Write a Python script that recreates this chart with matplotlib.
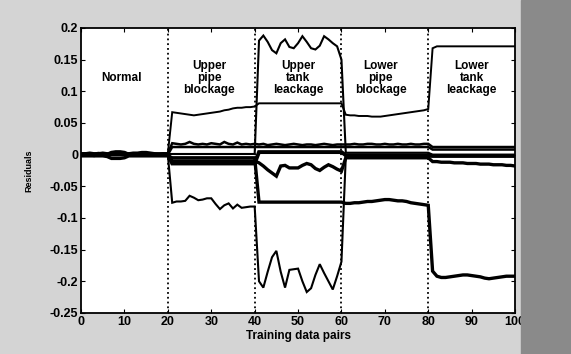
import numpy as np
import matplotlib
matplotlib.use('Agg')
import matplotlib.pyplot as plt
from matplotlib.patches import Rectangle

plt.rcParams['font.family'] = ['Liberation Sans', 'DejaVu Sans']
plt.rcParams['font.weight'] = 'bold'

# training data pairs 0..100
x = np.arange(0, 101)

# residual series (index = training pair)
res_b = ([0.002, 0.002, 0.003, 0.002, 0.002, 0.003, 0.002, 0.002, 0.002, 0.003, 0.002,
          0.002, 0.003, 0.003, 0.004, 0.004, 0.003, 0.002, 0.002, 0.002, 0.002]
         + [0.018, 0.017, 0.016, 0.017, 0.020, 0.017, 0.016, 0.017, 0.016, 0.018,
            0.017, 0.016, 0.020, 0.017, 0.016, 0.019, 0.016, 0.017, 0.016, 0.017]
         + [0.016, 0.017, 0.015, 0.016, 0.017, 0.016, 0.015, 0.016, 0.017, 0.016,
            0.015, 0.016, 0.016, 0.015, 0.016, 0.017, 0.016, 0.015, 0.016, 0.016]
         + [0.016, 0.016, 0.017, 0.016, 0.016, 0.017, 0.017, 0.016, 0.016, 0.017,
            0.016, 0.016, 0.017, 0.016, 0.016, 0.017, 0.016, 0.016, 0.017, 0.017]
         + [0.012] * 20)

res_b2 = [0.000] * 21 + [0.012] * 60 + [0.008] * 20

res_e = ([0.002, 0.002, 0.001, 0.002, 0.003, 0.002, 0.001, 0.002, 0.002, 0.003, 0.002,
          0.002, 0.001, 0.002, 0.003, 0.003, 0.002, 0.002, 0.001, 0.002, 0.002]
         + [0.067, 0.066, 0.065, 0.064, 0.063, 0.062, 0.063, 0.064, 0.065, 0.066,
            0.067, 0.068, 0.070, 0.071, 0.073, 0.074, 0.074, 0.075, 0.075, 0.076]
         + [0.081] * 20
         + [0.063, 0.062, 0.062, 0.061, 0.061, 0.061, 0.060, 0.060, 0.060, 0.061,
            0.062, 0.063, 0.064, 0.065, 0.066, 0.067, 0.068, 0.069, 0.070, 0.072]
         + [0.168] + [0.171] * 19)

res_d = ([0.001] * 41
         + [0.180, 0.188, 0.178, 0.165, 0.160, 0.176, 0.182, 0.170, 0.168, 0.176,
            0.187, 0.178, 0.168, 0.166, 0.172, 0.187, 0.182, 0.176, 0.171, 0.150]
         + [0.003] * 20 + [0.000] * 20)

res_g = ([-0.001] * 21
         + [-0.076, -0.074, -0.074, -0.073, -0.065, -0.068, -0.072, -0.071, -0.069, -0.069,
            -0.078, -0.086, -0.080, -0.077, -0.085, -0.079, -0.084, -0.083, -0.082, -0.082]
         + [-0.200, -0.210, -0.185, -0.162, -0.152, -0.185, -0.210, -0.182, -0.181, -0.180,
            -0.200, -0.217, -0.211, -0.190, -0.173, -0.187, -0.200, -0.213, -0.192, -0.169]
         + [-0.003] * 40)

res_f = ([-0.002, -0.002, -0.002, -0.002, -0.002, -0.002, -0.003, -0.006, -0.006, -0.006,
          -0.005, -0.002, -0.002, -0.002, -0.002, -0.002, -0.002, -0.002, -0.002, -0.002, -0.002]
         + [-0.005] * 20
         + [-0.075] * 20
         + [-0.077, -0.077, -0.076, -0.076, -0.075, -0.074, -0.074, -0.073, -0.072, -0.071,
            -0.071, -0.072, -0.073, -0.073, -0.074, -0.076, -0.077, -0.078, -0.079, -0.080]
         + [-0.184, -0.192, -0.194, -0.194, -0.193, -0.192, -0.191, -0.190, -0.190, -0.191,
            -0.192, -0.193, -0.195, -0.196, -0.195, -0.194, -0.193, -0.192, -0.192, -0.192])

res_h = ([0.000] * 21
         + [-0.010] * 20
         + [-0.013, -0.018, -0.024, -0.029, -0.034, -0.018, -0.017, -0.021, -0.021, -0.021,
            -0.017, -0.014, -0.016, -0.022, -0.025, -0.020, -0.016, -0.019, -0.023, -0.026]
         + [-0.005] * 20
         + [-0.011, -0.011, -0.012, -0.012, -0.012, -0.013, -0.013, -0.013, -0.014, -0.014,
            -0.014, -0.015, -0.015, -0.015, -0.016, -0.016, -0.016, -0.017, -0.017, -0.018])

res_n = ([0.000, 0.001, 0.000, -0.001, 0.000, 0.001, 0.000, 0.003, 0.004, 0.004,
          0.003, 0.000, 0.001, 0.000, 0.001, 0.000, 0.001, 0.000, 0.000, 0.001, 0.000]
         + [-0.014] * 20 + [0.004] * 20 + [-0.001] * 20 + [-0.002] * 20)

fault_bounds = [20, 40, 60, 80]
fault_labels = ['Normal', 'Upper\npipe\nblockage', 'Upper\ntank\nleackage',
                'Lower\npipe\nblockage', 'Lower\ntank\nleackage']
label_x = [9.4, 29.5, 50, 69, 90]

yticks = [-0.25, -0.2, -0.15, -0.1, -0.05, 0, 0.05, 0.1, 0.15, 0.2]
ytick_labels = ['-0.25', '-0.2', '-0.15', '-0.1', '-0.05', '0', '0.05', '0.1', '0.15', '0.2']

fig = plt.figure(figsize=(5.71, 3.54), dpi=100, facecolor='#d4d4d4')
# darker scan edge on the right
fig.patches.append(Rectangle((0.912, 0), 0.088, 1, transform=fig.transFigure,
                             color='#8a8a8a', zorder=0))
ax = fig.add_axes([0.142, 0.116, 0.760, 0.805])

for s, lw in [(res_n, 2.8), (res_f, 2.4), (res_h, 2.4), (res_g, 1.5), (res_d, 1.5),
              (res_b2, 1.8), (res_b, 1.8), (res_e, 1.4)]:
    ax.plot(x, s, color='black', lw=lw, solid_joinstyle='miter')

for b in fault_bounds:
    ax.axvline(b, color='black', ls=':', lw=1.3)

for lx, t in zip(label_x, fault_labels):
    ax.text(lx, 0.121, t, ha='center', va='center', fontsize=8.5,
            fontweight='bold', linespacing=1.0)

ax.set_xlim(0, 100)
ax.set_ylim(-0.25, 0.2)
ax.set_xticks(range(0, 101, 10))
ax.set_yticks(yticks)
ax.set_yticklabels(ytick_labels)
ax.tick_params(direction='in', top=True, right=True, length=3, labelsize=9, pad=2)
for lab in ax.get_xticklabels() + ax.get_yticklabels():
    lab.set_fontweight('bold')
for sp in ax.spines.values():
    sp.set_linewidth(1.3)

ax.set_xlabel('Training data pairs', fontsize=8.5, fontweight='bold', labelpad=2)
ax.set_ylabel('Residuals', fontsize=6.5, fontweight='bold')
ax.yaxis.set_label_coords(-0.11, 0.50)

fig.savefig('out.png', dpi=100, facecolor=fig.get_facecolor())
